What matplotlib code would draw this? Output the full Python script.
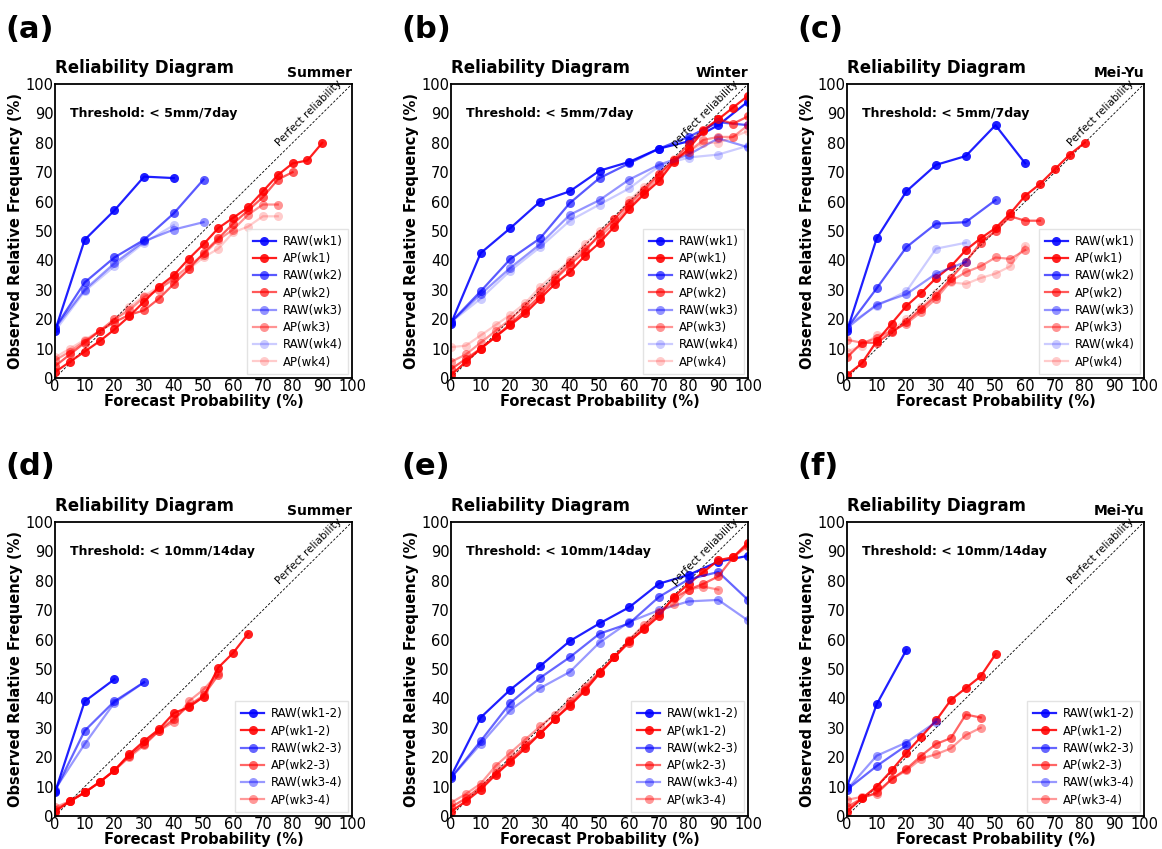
import matplotlib
matplotlib.use("Agg")
import matplotlib.pyplot as plt

# forecast probability bins (%)
raw_x = [0, 10, 20, 30, 40, 50, 60, 70, 80, 90, 100]
ap_x = [0, 5, 10, 15, 20, 25, 30, 35, 40, 45, 50, 55, 60, 65, 70, 75, 80, 85, 90, 95, 100]

# (a) Summer, < 5mm/7day
sum5_raw = [
    [16, 47, 57, 68.5, 68],
    [17, 32.5, 41, 47, 56, 67.5],
    [17, 30, 39, 46.5, 50.5, 53],
    [16, 29.5, 38, 46, 52],
]
sum5_ap = [
    [2, 5.5, 9, 12.5, 16.5, 21, 26, 31, 35, 40.5, 45.5, 51, 54.5, 58, 63.5, 69, 73, 74, 80],
    [4, 8, 12, 16, 19, 21.5, 23, 27, 32, 37, 42.5, 47.5, 52.5, 57, 61.5, 67.5, 70],
    [6, 9, 12.5, 16, 20, 23, 27.5, 30, 34, 38, 42, 47, 50.5, 55.5, 59, 59],
    [7, 10, 13, 16, 20, 24, 28, 31, 33, 37, 41, 44, 49.5, 51.5, 55, 55],
]

# (b) Winter, < 5mm/7day
win5_raw = [
    [18.5, 42.5, 51, 60, 63.5, 70.5, 73.5, 78, 80.5, 86, 94],
    [19, 29.5, 40.5, 47.5, 59.5, 68, 73, 78, 82, 87, 86],
    [19, 28.5, 37.5, 45.5, 55.5, 60.5, 67.5, 72.5, 76, 81.5, 78.5],
    [19, 27, 36.5, 44.5, 53.5, 59, 64.5, 72, 75, 76, 79],
]
win5_ap = [
    [1, 5.5, 10, 14, 18, 22, 27, 32, 36, 41.5, 46, 51.5, 57.5, 62.5, 67, 73.5, 78, 84, 88, 92, 96],
    [3, 6.5, 10, 14, 18.5, 23, 28, 33.5, 38.5, 43, 49, 54, 59.5, 64, 69.5, 74, 79.5, 84.5, 88, 86.5, 89],
    [5.5, 8, 12, 16, 20, 24.5, 29.5, 34, 39.5, 44, 48, 52.5, 58.5, 63, 68.5, 74, 77, 81, 82, 82, 86],
    [10.5, 11, 14.5, 18, 21.5, 25.5, 31, 35.5, 40, 45.5, 50, 54, 60.5, 65, 69, 74.5, 77, 80, 80, 82, 84],
]

# (c) Mei-Yu, < 5mm/7day
mei5_raw = [
    [16, 47.5, 63.5, 72.5, 75.5, 86, 73],
    [17, 30.5, 44.5, 52.5, 53, 60.5],
    [17, 25, 28.5, 35.5, 39.5],
    [18, 24.5, 29.5, 44, 46],
]
mei5_ap = [
    [1, 5, 12.5, 18.5, 24.5, 29, 34, 38, 43.5, 47.5, 51, 56, 62, 66, 71, 76, 80],
    [7, 12, 12, 15.5, 19, 23.5, 28, 34, 39.5, 46, 50, 55, 53.5, 53.5],
    [13, 12, 13.5, 16, 18.5, 22.5, 27, 33, 36, 38, 41, 40.5, 43.5],
    [9, 11, 14.5, 16, 20, 24, 29, 32.5, 32, 34, 35.5, 38, 45],
]

# (d) Summer, < 10mm/14day
sum10_raw = [
    [8, 39, 46.5],
    [8.5, 29, 39, 45.5],
    [9, 24.5, 38.5, 45.5],
]
sum10_ap = [
    [1.5, 5, 8, 11.5, 15.5, 21, 25.5, 29.5, 35, 37, 40.5, 50.5, 55.5, 62],
    [2, 5, 8, 11.5, 15.5, 20.5, 24.5, 29, 33, 37.5, 41, 48],
    [3, 5, 8, 11.5, 15.5, 20, 24, 29, 32, 39, 43, 48.5],
]

# (e) Winter, < 10mm/14day
win10_raw = [
    [13.5, 33.5, 43, 51, 59.5, 65.5, 71, 79, 82, 86.5, 88.5],
    [13, 25.5, 38.5, 47, 54, 62, 65.5, 74.5, 80.5, 83, 73.5],
    [13, 24.5, 36, 43.5, 49, 59, 66, 70, 73, 73.5, 66.5],
]
win10_ap = [
    [1.5, 5, 9, 14, 18.5, 23, 28, 33, 37.5, 42.5, 48.5, 54, 59.5, 63.5, 68, 74.5, 79, 83, 87, 88, 93],
    [3, 6, 10, 14.5, 19, 24, 28, 33, 38, 43, 49, 54, 59, 64, 69, 74, 77, 79, 81.5, 88, 92],
    [4.5, 7.5, 11, 17, 21.5, 26, 30.5, 34.5, 39, 44, 49, 54, 60, 65, 69.5, 72, 77, 78, 77],
]

# (f) Mei-Yu, < 10mm/14day
mei10_raw = [
    [10, 38, 56.5],
    [9, 17, 24],
    [9, 20.5, 25, 32],
]
mei10_ap = [
    [1.5, 6, 10, 15.5, 21.5, 27, 32.5, 39.5, 43.5, 47.5, 55],
    [3, 6, 8, 12.5, 16, 20.5, 24.5, 26.5, 34.5, 33.5],
    [5.5, 6.5, 7.5, 12.5, 15.5, 19.5, 21, 23, 27.5, 30],
]

weeks_1 = ["wk1", "wk2", "wk3", "wk4"]
weeks_2 = ["wk1-2", "wk2-3", "wk3-4"]

panels = [
    ("(a)", "Summer", "Threshold: < 5mm/7day", sum5_raw, sum5_ap, weeks_1),
    ("(b)", "Winter", "Threshold: < 5mm/7day", win5_raw, win5_ap, weeks_1),
    ("(c)", "Mei-Yu", "Threshold: < 5mm/7day", mei5_raw, mei5_ap, weeks_1),
    ("(d)", "Summer", "Threshold: < 10mm/14day", sum10_raw, sum10_ap, weeks_2),
    ("(e)", "Winter", "Threshold: < 10mm/14day", win10_raw, win10_ap, weeks_2),
    ("(f)", "Mei-Yu", "Threshold: < 10mm/14day", mei10_raw, mei10_ap, weeks_2),
]

lefts = [55 / 1162, 451 / 1162, 847 / 1162]
bottoms = [1 - 378 / 849, 1 - 816 / 849]
w = 297 / 1162
h = 294 / 849

fig = plt.figure(figsize=(11.62, 8.49), dpi=100)

for i, (tag, season, thresh, raw, ap, weeks) in enumerate(panels):
    row, col = divmod(i, 3)
    ax = fig.add_axes([lefts[col], bottoms[row], w, h])
    ax.plot([0, 100], [0, 100], color="black", lw=0.6, ls=(0, (3, 2)))
    alphas = [0.88, 0.65, 0.42, 0.2] if len(weeks) == 4 else [0.88, 0.6, 0.4]
    for k, wk in enumerate(weeks):
        ax.plot(raw_x[:len(raw[k])], raw[k], "-o", color="#0000ff", alpha=alphas[k],
                lw=1.6, ms=6.5, mew=0, label="RAW(%s)" % wk)
        ax.plot(ap_x[:len(ap[k])], ap[k], "-o", color="#ff0000", alpha=alphas[k],
                lw=1.6, ms=6.5, mew=0, label="AP(%s)" % wk)
    ax.set_xlim(0, 100)
    ax.set_ylim(0, 100)
    ax.set_xticks(range(0, 101, 10))
    ax.set_yticks(range(0, 101, 10))
    ax.tick_params(length=0, labelsize=10.5, pad=1)
    for s in ax.spines.values():
        s.set_linewidth(1.3)
    ax.set_xlabel("Forecast Probability (%)", fontsize=10.5, fontweight="bold", labelpad=0)
    ax.set_ylabel("Observed Relative Frequency (%)", fontsize=10.5, fontweight="bold", labelpad=2)
    ax.set_title("Reliability Diagram", loc="left", fontsize=12, fontweight="bold", pad=8)
    ax.text(1.0, 1.015, season, transform=ax.transAxes, ha="right", va="bottom",
            fontsize=10, fontweight="bold")
    ax.text(0.05, 0.9, thresh, transform=ax.transAxes, ha="left", va="center",
            fontsize=9, fontweight="bold")
    ptxt = "perfect reliability" if season == "Winter" else "Perfect reliability"
    ax.text(85.5, 90, ptxt, rotation=45, ha="center", va="center", fontsize=7.5,
            rotation_mode="anchor")
    leg = ax.legend(loc="lower right", fontsize=8.5, handlelength=1.9,
                    borderpad=0.5, labelspacing=0.36, handletextpad=0.6,
                    fancybox=False, borderaxespad=0.3)
    leg.get_frame().set_edgecolor("#dddddd")
    fig.text(lefts[col] - 50 / 1162, bottoms[row] + h + 55 / 849, tag,
             fontsize=22, fontweight="bold", ha="left", va="center")

fig.savefig("out.png", dpi=100)
